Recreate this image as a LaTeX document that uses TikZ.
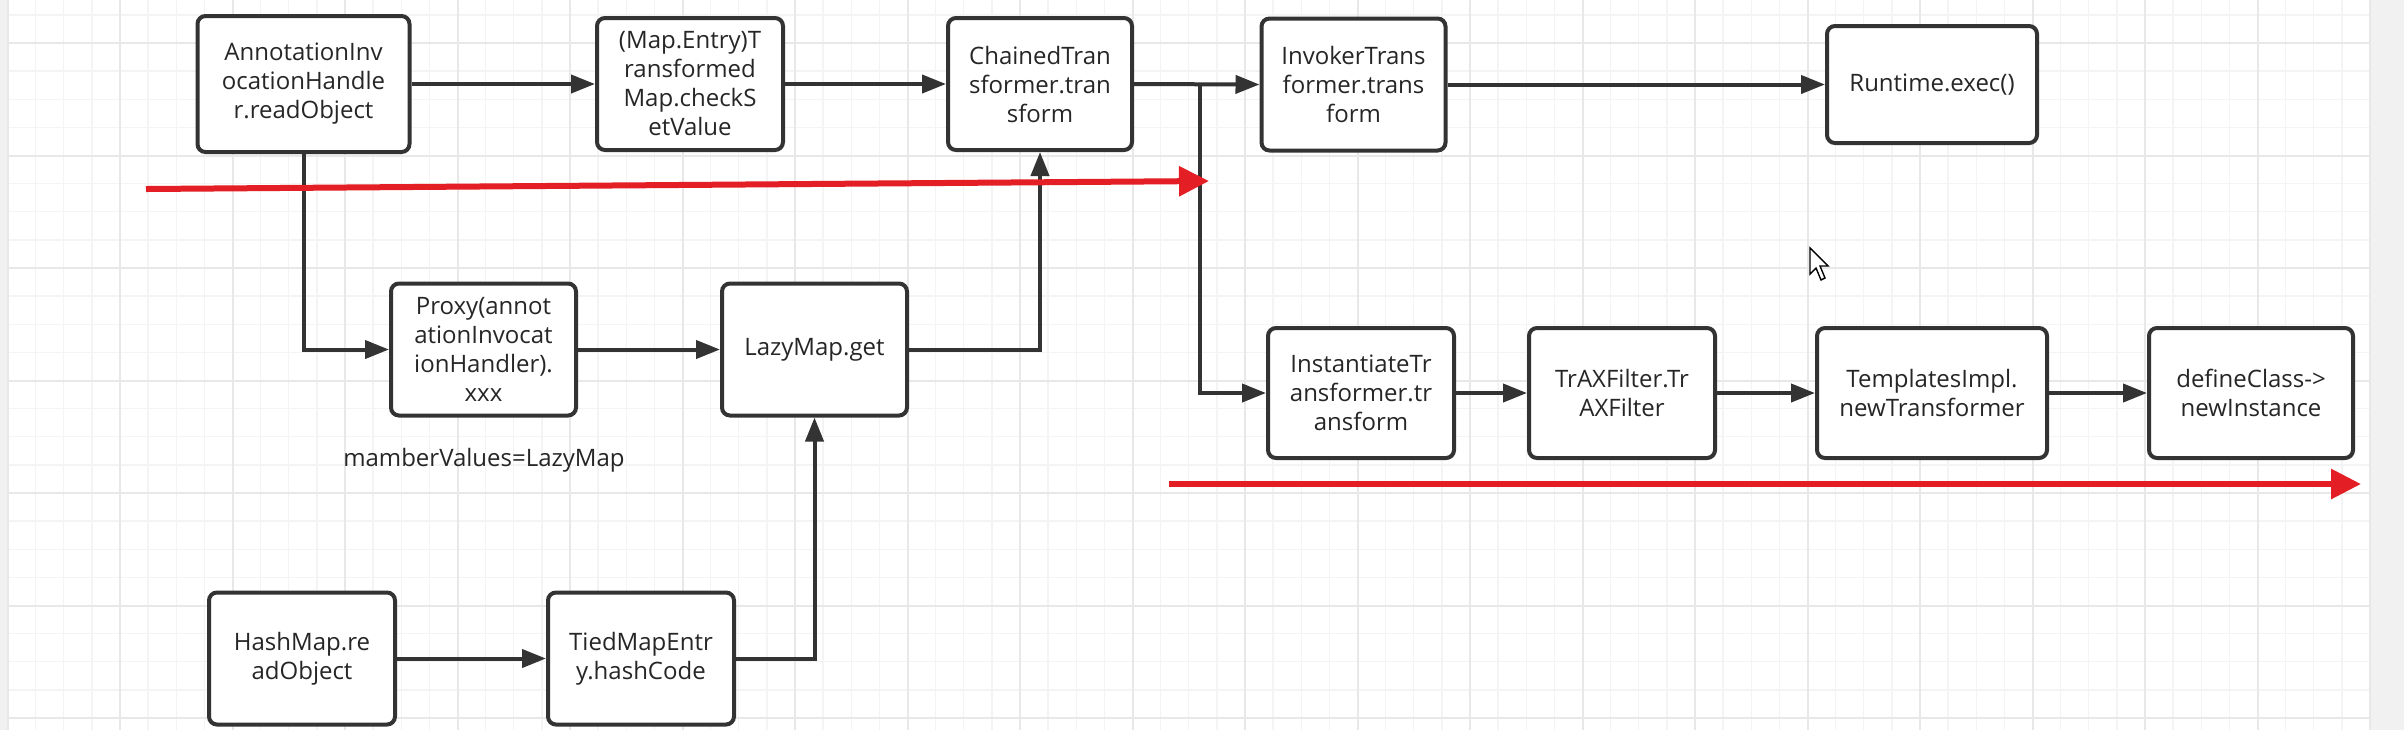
\documentclass[tikz,border=0pt]{standalone}
\usepackage{fontspec}
\setmainfont{Open Sans}
\usetikzlibrary{arrows.meta}
\definecolor{ln}{HTML}{333333}
\definecolor{rd}{HTML}{E31E24}
\definecolor{gmin}{HTML}{F4F4F4}
\definecolor{gmaj}{HTML}{E8E8E8}
\definecolor{band}{HTML}{F1F1F1}
\begin{document}
\begin{tikzpicture}[x=0.5pt,y=-0.5pt,
  box/.style={draw=ln, line width=2pt, rounded corners=4pt, fill=white, align=center,
    font=\fontsize{12}{14.5}\selectfont, text=black!85, inner sep=0pt, minimum height=66pt},
  conn/.style={draw=ln, line width=2pt, -{Triangle[length=12pt,width=9pt]}},
  redarrow/.style={draw=rd, line width=3pt, -{Triangle[length=15pt,width=14.5pt]}},
  lbl/.style={font=\fontsize{12}{14.5}\selectfont, text=black!85, inner sep=0pt}]
\useasboundingbox (0,0) rectangle (2404,730);
\fill[white] (0,0) rectangle (2404,730);
% grid
\foreach \i in {0,...,84} \draw[gmin, line width=0.7pt] ({7.5+28.125*\i},0) -- ({7.5+28.125*\i},730);
\foreach \j in {0,...,25} \draw[gmin, line width=0.7pt] (7.5,{14.875+28.125*\j}) -- (2370,{14.875+28.125*\j});
\foreach \i in {0,...,21} \draw[gmaj, line width=1pt] ({7.5+112.5*\i},0) -- ({7.5+112.5*\i},730);
\foreach \j in {0,...,6} \draw[gmaj, line width=1pt] (7.5,{43+112.5*\j}) -- (2370,{43+112.5*\j});
\fill[band] (0,0) rectangle (7,730);
\fill[band] (2371,0) rectangle (2404,730);

% boxes
\node[box, minimum width=106pt, minimum height=68pt] (aih) at (303.5,84) {AnnotationInv\\ocationHandle\\r.readObject};
\node[box, minimum width=93pt] (map) at (690,84) {(Map.Entry)T\\ransformed\\Map.checkS\\etValue};
\node[box, minimum width=92pt] (chain) at (1040,84) {ChainedTran\\sformer.tran\\sform};
\node[box, minimum width=92pt] (inv) at (1353.5,84.5) {InvokerTrans\\former.trans\\form};
\node[box, minimum width=105pt, minimum height=58.5pt] (rt) at (1932,84.5) {Runtime.exec()};
\node[box, minimum width=92.5pt] (proxy) at (483.5,349.5) {Proxy(annot\\ationInvocat\\ionHandler).\\xxx};
\node[box, minimum width=92.5pt] (lazy) at (814.5,349.5) {LazyMap.get};
\node[box, minimum width=93pt] (hash) at (302,658.5) {HashMap.re\\adObject};
\node[box, minimum width=93pt] (tied) at (641,658.5) {TiedMapEntr\\y.hashCode};
\node[box, minimum width=93pt, minimum height=65pt] (inst) at (1361,393) {InstantiateTr\\ansformer.tr\\ansform};
\node[box, minimum width=93pt, minimum height=65pt] (trax) at (1622,393) {TrAXFilter.Tr\\AXFilter};
\node[box, minimum width=115pt, minimum height=65pt] (tpl) at (1932,393) {TemplatesImpl.\\newTransformer};
\node[box, minimum width=102pt, minimum height=65pt] (def) at (2251,393) {defineClass-{}>\\newInstance};
\node[lbl] (mv) at (484,460) {mamberValues=LazyMap};

% connectors
\coordinate (j) at (1200,84);
\draw[conn] (aih.east) -- (map.west);
\draw[conn] (map.east) -- (chain.west);
\draw[conn] (chain.east) -- (inv.west);
\draw[conn] (inv.east) -- (rt.west);
\draw[conn] (j) |- (inst.west);
\draw[conn] (aih.south) |- (proxy.west);
\draw[conn] (proxy.east) -- (lazy.west);
\draw[conn] (lazy.east) -| (chain.south);
\draw[conn] (hash.east) -- (tied.west);
\draw[conn] (tied.east) -| (lazy.south);
\draw[conn] (inst.east) -- (trax.west);
\draw[conn] (trax.east) -- (tpl.west);
\draw[conn] (tpl.east) -- (def.west);

% red arrows
\coordinate (r1s) at (146,189);
\coordinate (r1e) at (1209,181);
\coordinate (r2s) at (1169,484);
\coordinate (r2e) at (2361,484);
\draw[redarrow] (r1s) -- (r1e);
\draw[redarrow] (r2s) -- (r2e);

% mouse cursor
\draw[black, fill=white, line width=0.7pt, line join=miter]
  (1810,248) -- (1810,274) -- (1816,268) -- (1821,280) -- (1825,278) -- (1820,266) -- (1828,266) -- cycle;
\end{tikzpicture}
\end{document}
